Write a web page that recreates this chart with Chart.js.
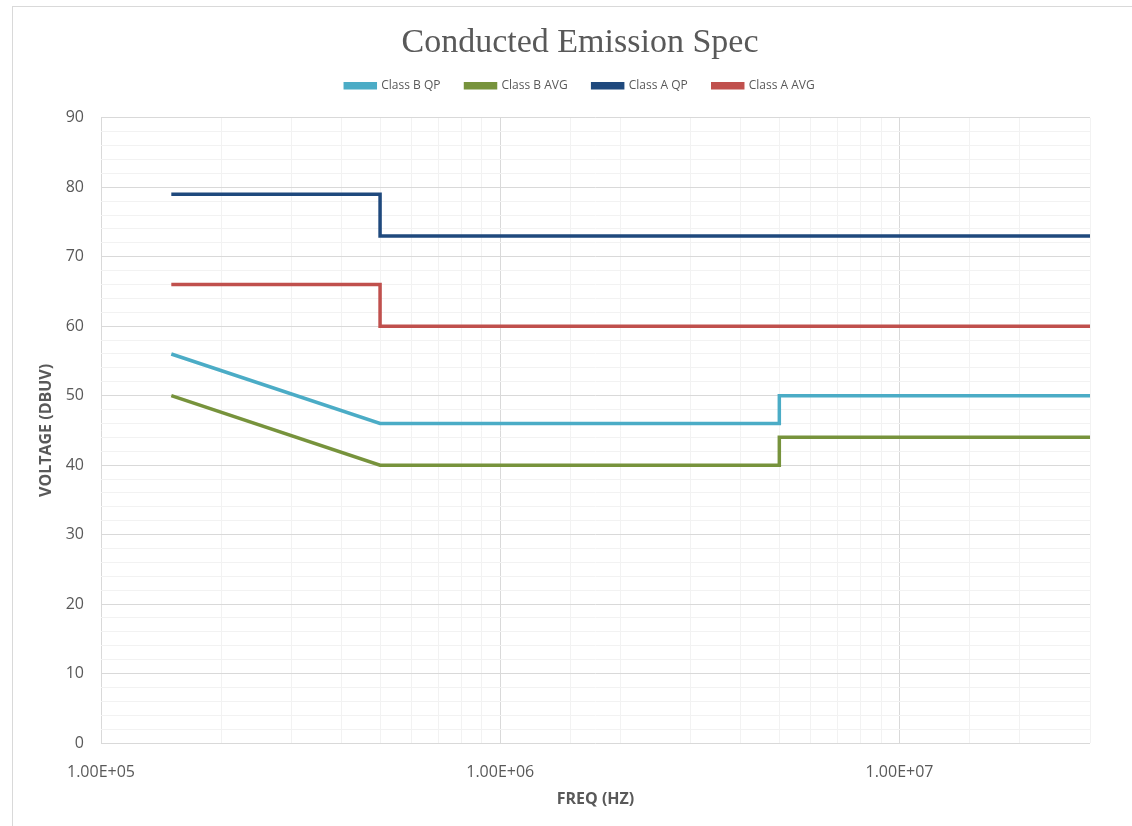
<!DOCTYPE html>
<html>
<head>
<meta charset="utf-8">
<script src="https://cdn.jsdelivr.net/npm/chart.js@4"></script>
<style>
  html, body { margin: 0; padding: 0; background: #fff; overflow: hidden; }
  #frame {
    position: absolute; left: 12px; top: 6px;
    width: 1134px; height: 830px;
    border: 1px solid #d9d9d9; background: #fff;
  }
  #frame canvas { display: block; }
</style>
</head>
<body>
<div id="frame"><canvas id="emiChart" width="1134" height="830"></canvas></div>
<script>
// frequency breakpoints (Hz) and limit levels (dBuV)
var classBQPFreq = [150000, 500000, 5000000, 5000000, 30000000];
var classBQPLevel = [56, 46, 46, 50, 50];

var classBAVGFreq = [150000, 500000, 5000000, 5000000, 30000000];
var classBAVGLevel = [50, 40, 40, 44, 44];

var classAQPFreq = [150000, 500000, 500000, 30000000];
var classAQPLevel = [79, 79, 73, 73];

var classAAVGFreq = [150000, 500000, 500000, 30000000];
var classAAVGLevel = [66, 66, 60, 60];

var seriesNames = ['Class B QP', 'Class B AVG', 'Class A QP', 'Class A AVG'];
var seriesColors = ['#4bacc6', '#77933c', '#1f497d', '#c0504d'];

var xMin = 100000, xMax = 30000000;
var yMin = 0, yMax = 90;

function toPoints(xs, ys) {
    var pts = [];
    for (var i = 0; i < xs.length; i++) {
        pts.push({ x: xs[i], y: ys[i] });
    }
    return pts;
}

function isDecade(v) {
    var l = Math.log10(v);
    return Math.abs(l - Math.round(l)) < 1e-9;
}

var gray = '#595959';
var tickFont = { family: "'Open Sans', sans-serif", size: 16 };
var axisTitleFont = { family: "'Open Sans', sans-serif", size: 16, weight: 'bold' };

// Excel centres title and legend on the whole chart, and leaves a gap under the legend
var excelLayout = {
    id: 'excelLayout',
    beforeInit: function (chart) {
        var fit = chart.legend.fit;
        chart.legend.fit = function () {
            fit.call(this);
            this.height += 16;
        };
    },
    afterLayout: function (chart) {
        [chart.titleBlock, chart.legend].forEach(function (box) {
            box.left = 0;
            box.right = chart.width;
            box.width = chart.width;
        });
    }
};

var ctx = document.getElementById('emiChart').getContext('2d');

var emiChart = new Chart(ctx, {
    type: 'line',
    data: {
        datasets: [
            { label: seriesNames[0], data: toPoints(classBQPFreq, classBQPLevel) },
            { label: seriesNames[1], data: toPoints(classBAVGFreq, classBAVGLevel) },
            { label: seriesNames[2], data: toPoints(classAQPFreq, classAQPLevel) },
            { label: seriesNames[3], data: toPoints(classAAVGFreq, classAAVGLevel) }
        ].map(function (ds, i) {
            ds.borderColor = seriesColors[i];
            ds.backgroundColor = seriesColors[i];
            ds.borderWidth = 3.5;
            ds.pointRadius = 0;
            ds.tension = 0;
            ds.fill = false;
            return ds;
        })
    },
    plugins: [excelLayout],
    options: {
        responsive: false,
        animation: false,
        layout: { padding: { left: 0, right: 57, top: 0, bottom: 24 } },
        plugins: {
            title: {
                display: true,
                text: 'Conducted Emission Spec',
                color: gray,
                font: { family: "'Liberation Serif', serif", size: 34, weight: 'normal' },
                padding: { top: 16, bottom: -9 }
            },
            legend: {
                display: true,
                labels: {
                    color: gray,
                    font: { family: "'Open Sans', sans-serif", size: 12 },
                    boxWidth: 30,
                    boxHeight: 4,
                    padding: 25
                }
            },
            tooltip: { enabled: false }
        },
        scales: {
            x: {
                type: 'logarithmic',
                min: xMin,
                max: xMax,
                border: { display: false },
                grid: {
                    drawTicks: false,
                    color: function (c) {
                        return isDecade(c.tick.value) ? '#d9d9d9' : '#f2f2f2';
                    }
                },
                ticks: {
                    autoSkip: false,
                    maxRotation: 0,
                    color: gray,
                    font: tickFont,
                    padding: 20,
                    callback: function (v) {
                        return isDecade(v) ? Number(v).toExponential(2).toUpperCase().replace(/E\+(\d)$/, 'E+0$1') : '';
                    }
                },
                title: {
                    display: true,
                    text: 'FREQ (HZ)',
                    color: gray,
                    font: axisTitleFont,
                    padding: { top: 4, bottom: 4 }
                },
                afterFit: function (s) { s.height = 70; }
            },
            y: {
                min: yMin,
                max: yMax,
                border: { display: false },
                grid: {
                    drawTicks: false,
                    color: function (c) {
                        return c.tick.value % 10 === 0 ? '#d9d9d9' : '#f2f2f2';
                    }
                },
                ticks: {
                    stepSize: 2,
                    autoSkip: false,
                    color: gray,
                    font: tickFont,
                    padding: 17,
                    callback: function (v) { return v % 10 === 0 ? v : ''; }
                },
                title: {
                    display: true,
                    text: 'VOLTAGE (DBUV)',
                    color: gray,
                    font: axisTitleFont,
                    padding: { top: 24, bottom: 0 }
                },
                afterFit: function (s) { s.width = 88; }
            }
        }
    }
});
</script>
</body>
</html>
